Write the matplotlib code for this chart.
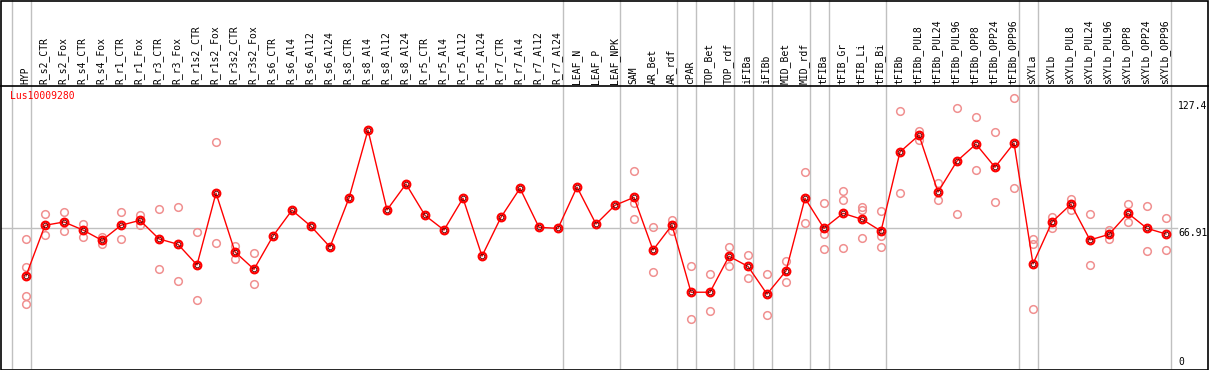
import matplotlib
matplotlib.use("Agg")
import matplotlib.pyplot as plt
import matplotlib.transforms as mtransforms
from matplotlib.patches import Rectangle

categories = [
    "HYP", "R_s2_CTR", "R_s2_Fox", "R_s4_CTR", "R_s4_Fox", "R_r1_CTR", "R_r1_Fox",
    "R_r3_CTR", "R_r3_Fox", "R_r1s2_CTR", "R_r1s2_Fox", "R_r3s2_CTR", "R_r3s2_Fox",
    "R_s6_CTR", "R_s6_Al4", "R_s6_Al12", "R_s6_Al24", "R_s8_CTR", "R_s8_Al4",
    "R_s8_Al12", "R_s8_Al24", "R_r5_CTR", "R_r5_Al4", "R_r5_Al12", "R_r5_Al24",
    "R_r7_CTR", "R_r7_Al4", "R_r7_Al12", "R_r7_Al24", "LEAF_N", "LEAF_P", "LEAF_NPK",
    "SAM", "AR_Bet", "AR_rdf", "cPAR", "TOP_Bet", "TOP_rdf", "iFIBa", "iFIBb",
    "MID_Bet", "MID_rdf", "tFIBa", "tFIB_Gr", "tFIB_Li", "tFIB_Bi", "tFIBb",
    "tFIBb_PUL8", "tFIBb_PUL24", "tFIBb_PUL96", "tFIBb_OPP8", "tFIBb_OPP24",
    "tFIBb_OPP96", "sXYLa", "sXYLb", "sXYLb_PUL8", "sXYLb_PUL24", "sXYLb_PUL96",
    "sXYLb_OPP8", "sXYLb_OPP24", "sXYLb_OPP96",
]

means = [
    43.9, 68.4, 70.0, 66.1, 61.1, 68.4, 70.8, 61.8, 59.2, 49.2, 84.0, 55.5, 47.1,
    63.2, 75.7, 67.9, 57.9, 81.6, 114.5, 75.8, 88.4, 73.2, 66.1, 81.5, 53.5,
    72.3, 86.3, 67.4, 66.9, 86.9, 69.0, 78.1,
    81.9, 56.4, 68.5, 36.0, 36.0, 53.4, 48.5, 35.1, 46.3, 81.5,
    66.9, 74.2, 71.3, 65.6, 103.9, 112.0, 84.5, 99.5, 107.7, 96.5, 108.2,
    49.7, 70.0, 78.6, 61.3, 64.0, 74.2, 66.9, 64.2,
]

# replicate values per sample (empty where only the mean is shown)
replicates = [
    [61.6, 48.2, 34.4, 30.3], [74.1, 63.6], [74.8, 65.5], [69.0, 62.9], [62.9, 59.3],
    [74.7, 61.6], [73.4, 68.7], [76.3, 47.2], [77.1, 41.3], [65.3, 32.1],
    [108.6, 59.7], [58.4, 52.2], [54.8, 40.0],
    [], [], [], [], [], [], [], [], [], [], [], [], [], [], [], [], [], [], [],
    [94.7, 79.0, 71.4], [67.4, 45.6], [71.1, 65.8], [48.5, 22.9], [44.7, 26.8],
    [57.9, 48.8], [54.0, 42.7], [44.7, 24.8], [51.1, 40.8], [94.0, 69.4],
    [79.0, 64.3, 56.8], [85.0, 80.6, 57.4], [77.4, 75.8, 62.1], [75.3, 63.4, 57.7],
    [123.6, 84.0], [114.2, 109.7], [88.9, 80.6], [125.2, 73.7], [120.8, 95.0],
    [113.6, 79.7], [130.0, 86.4],
    [61.6, 59.3, 27.9], [72.6, 66.9], [81.3, 75.8], [73.7, 49.2], [66.3, 61.9],
    [78.7, 69.8], [77.7, 55.8], [71.8, 56.3],
]

# last sample of each group (gray separators)
group_ends = ["HYP", "R_r7_Al24", "LEAF_NPK", "AR_rdf", "cPAR", "TOP_rdf", "iFIBa",
              "iFIBb", "MID_rdf", "tFIBa", "tFIB_Bi", "tFIBb_OPP96", "sXYLa", "sXYLb_OPP96"]

gene = "Lus10009280"
axis_labels = ["127.4", "66.91", "0"]
axis_values = [127.4, 66.91, 0]

W, H = 1209, 370
fig = plt.figure(figsize=(W / 100, H / 100), dpi=100)
# plot area: pixel rows 86..368, columns 1..1208
ax = fig.add_axes([1 / W, (H - 368) / H, 1207 / W, 282 / H])
ax.set_xlim((1 - 26) / 19, (1208 - 26) / 19)
ax.set_ylim((366.6 - 368) / 2.066, (366.6 - 86) / 2.066)
ax.set_xticks([])
ax.set_yticks([])
for s in ["left", "right", "bottom"]:
    ax.spines[s].set_visible(False)
ax.spines["top"].set_linewidth(1.2)

mono = "DejaVu Sans Mono"
fs = 7.05
x = list(range(len(categories)))

# reference line at the average
ax.plot([x[0] - 1.4, x[-1] + 0.6], [66.91, 66.91], color="#c0c0c0", lw=1, zorder=1)

# group separators, running through the header too
for name in [None] + group_ends:
    i = -1 if name is None else categories.index(name)
    ax.axvline(i + 0.25, ymin=0, ymax=1 + 86 / 282, color="#c0c0c0", lw=1,
               clip_on=False, zorder=1)

# replicates
for i, vals in enumerate(replicates):
    ax.plot([i] * len(vals), vals, "o", ms=5.5, mfc="none", mec="#f09090", mew=1.1,
            zorder=2)

# means
ax.plot(x, means, color="red", lw=1, zorder=3)
ax.plot(x, means, "o", ms=5.5, mfc="none", mec="red", mew=1.6, zorder=4)
ax.plot(x, means, "o", ms=3.2, mfc="none", mec="#600000", mew=0.6, zorder=5)

# header labels
trans = mtransforms.blended_transform_factory(ax.transData, ax.transAxes)
for i, lab in enumerate(categories):
    ax.text(i - 0.05, 1 + 2.5 / 282, lab, rotation=90, ha="center", va="bottom",
            fontsize=fs, family=mono, transform=trans)

ax.text(9 / 1207, 1 - 5 / 282, gene, color="red", fontsize=fs, family=mono,
        ha="left", va="top", transform=ax.transAxes)

# scale values on the right
label_x = (1178 - 26) / 19
for lab, v in zip(axis_labels, axis_values):
    off = mtransforms.offset_copy(ax.transData, fig=fig, x=0, y=2 if v > 100 else 0,
                                  units="dots")
    ax.text(label_x, v, lab, fontsize=fs, family=mono, ha="left",
            va="bottom" if v == 0 else "top", transform=off)

fig.add_artist(Rectangle((0.5 / W, 0.5 / H), (W - 1.5) / W, (H - 1.5) / H,
                         transform=fig.transFigure, fill=False, ec="black", lw=1.2))

fig.savefig("out.png", dpi=100)
